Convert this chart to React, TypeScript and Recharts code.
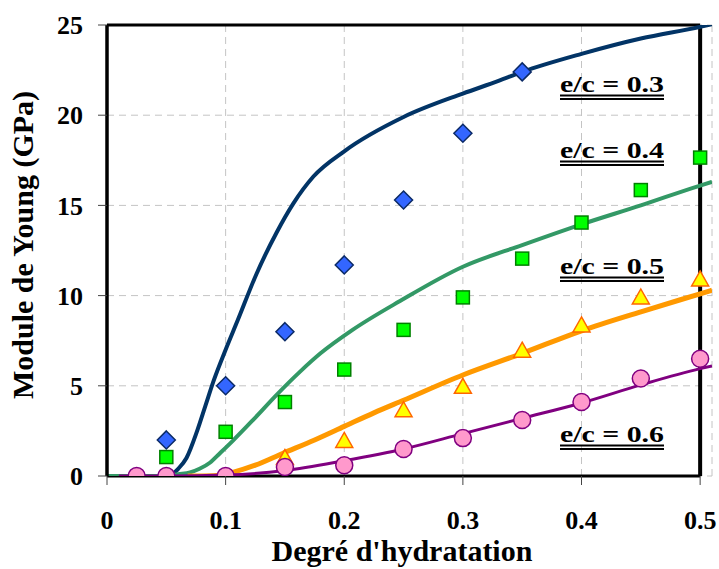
import React from "react";
import {
  ComposedChart,
  Line,
  Scatter,
  XAxis,
  YAxis,
  CartesianGrid,
  ReferenceLine,
  Customized,
} from "recharts";

const SERIF = '"Liberation Serif", "Times New Roman", serif';

// axis ticks
const xTicks = [0, 0.1, 0.2, 0.3, 0.4, 0.5];
const yTicks = [0, 5, 10, 15, 20, 25];

// measured points (symbols)
const xMeas03 = [0.05, 0.1, 0.15, 0.2, 0.25, 0.3, 0.35];
const eMeas03 = [2.0, 5.0, 8.0, 11.7, 15.3, 19.0, 22.4];

const xMeas04 = [0.05, 0.1, 0.15, 0.2, 0.25, 0.3, 0.35, 0.4, 0.45, 0.5];
const eMeas04 = [1.05, 2.45, 4.1, 5.9, 8.1, 9.9, 12.05, 14.05, 15.85, 17.65];

const xMeas05 = [0.025, 0.05, 0.1, 0.15, 0.2, 0.25, 0.3, 0.35, 0.4, 0.45, 0.5];
const eMeas05 = [0, 0, 0, 1.05, 2.0, 3.7, 5.0, 7.0, 8.4, 9.95, 10.95];

const xMeas06 = [0.025, 0.05, 0.1, 0.15, 0.2, 0.25, 0.3, 0.35, 0.4, 0.45, 0.5];
const eMeas06 = [0, 0, 0, 0.5, 0.6, 1.5, 2.1, 3.1, 4.1, 5.4, 6.5];

// simulated curves
const xSim03 = [0, 0.05, 0.055, 0.06, 0.067, 0.076, 0.083, 0.09, 0.1, 0.11, 0.126, 0.143, 0.157, 0.174, 0.2, 0.25, 0.3, 0.33, 0.35, 0.4, 0.45, 0.5, 0.51];
const eSim03 = [0, 0, 0.1, 0.4, 1.0, 2.5, 3.9, 5.3, 7.0, 8.6, 11.2, 13.5, 15.1, 16.6, 18.0, 19.9, 21.2, 21.9, 22.4, 23.4, 24.25, 24.9, 25.05];

const xSim04 = [0, 0.05, 0.06, 0.07, 0.078, 0.087, 0.095, 0.106, 0.123, 0.143, 0.163, 0.18, 0.207, 0.247, 0.3, 0.35, 0.4, 0.45, 0.5, 0.51];
const eSim04 = [0, 0, 0.1, 0.2, 0.4, 0.75, 1.25, 1.95, 3.1, 4.5, 5.8, 6.8, 8.1, 9.7, 11.6, 12.8, 13.95, 15.0, 16.1, 16.3];

const xSim05 = [0.068, 0.09, 0.1, 0.106, 0.125, 0.148, 0.175, 0.2, 0.225, 0.25, 0.3, 0.35, 0.4, 0.45, 0.5, 0.51];
const eSim05 = [0, 0.02, 0.1, 0.2, 0.6, 1.25, 2.0, 2.75, 3.5, 4.2, 5.6, 6.8, 8.05, 9.1, 10.1, 10.3];

const xSim06 = [0.01, 0.05, 0.1, 0.15, 0.2, 0.25, 0.3, 0.35, 0.4, 0.45, 0.5, 0.51];
const eSim06 = [0, 0, 0.05, 0.3, 0.85, 1.5, 2.35, 3.2, 4.05, 5.05, 5.95, 6.1];

const pairs = (xs: number[], ys: number[]) => xs.map((x, i) => ({ x, y: ys[i] }));

const Diamond = (p: any) => {
  const { cx, cy } = p;
  const r = 9;
  return (
    <polygon
      points={`${cx},${cy - r} ${cx + r},${cy} ${cx},${cy + r} ${cx - r},${cy}`}
      fill="#3366ff"
      stroke="#0b2a66"
      strokeWidth={1.5}
    />
  );
};

const Square = (p: any) => {
  const { cx, cy } = p;
  const s = 13;
  return <rect x={cx - s / 2} y={cy - s / 2} width={s} height={s} fill="#00ff00" stroke="#008000" strokeWidth={1.5} />;
};

const Triangle = (p: any) => {
  const { cx, cy } = p;
  const w = 17;
  const h = 15;
  return (
    <polygon
      points={`${cx},${cy - h / 2} ${cx + w / 2},${cy + h / 2} ${cx - w / 2},${cy + h / 2}`}
      fill="#ffff00"
      stroke="#ff6600"
      strokeWidth={1.5}
    />
  );
};

const Circle = (p: any) => {
  const { cx, cy } = p;
  return <circle cx={cx} cy={cy} r={8.5} fill="#ff99cc" stroke="#800080" strokeWidth={1.5} />;
};

const labels = [
  { text: "e/c = 0.3", base: 92 },
  { text: "e/c = 0.4", base: 158 },
  { text: "e/c = 0.5", base: 274 },
  { text: "e/c = 0.6", base: 442 },
];

function Annotations() {
  return (
    <g fontFamily={SERIF} fontWeight="bold" fill="#000">
      {labels.map((l) => (
        <g key={l.text}>
          <text x={560} y={l.base} fontSize={24} textLength={104} lengthAdjust="spacingAndGlyphs">
            {l.text}
          </text>
          <line x1={560} x2={664} y1={l.base + 3.5} y2={l.base + 3.5} stroke="#000" strokeWidth={2} />
          <line x1={560} x2={664} y1={l.base + 7} y2={l.base + 7} stroke="#000" strokeWidth={2} />
        </g>
      ))}
      <text x={402} y={561} fontSize={30} textAnchor="middle">
        Degré d'hydratation
      </text>
      <text transform="translate(33,245) rotate(-90)" fontSize={30} textAnchor="middle">
        Module de Young (GPa)
      </text>
    </g>
  );
}

export default function App() {
  const tickStyle = { fill: "#000", fontSize: 26, fontWeight: "bold", fontFamily: SERIF };
  return (
    <div style={{ position: "absolute", left: 0, top: 0, width: 719, height: 569, background: "#fff" }}>
      <ComposedChart width={719} height={569} margin={{ top: 25, right: 7, left: 37, bottom: 33 }}>
        <CartesianGrid stroke="#c4c4c4" strokeDasharray="7 5" />
        <XAxis
          type="number"
          dataKey="x"
          domain={[0, 0.51]}
          ticks={xTicks}
          height={60}
          axisLine={false}
          tickLine={{ stroke: "#444" }}
          tickSize={9}
          tickMargin={26}
          tick={tickStyle}
          allowDataOverflow
        />
        <YAxis
          type="number"
          dataKey="y"
          domain={[0, 25]}
          ticks={yTicks}
          width={70}
          axisLine={{ stroke: "#000", strokeWidth: 3.5 }}
          tickLine={{ stroke: "#444" }}
          tickSize={9}
          tickMargin={15}
          tick={tickStyle}
          allowDataOverflow
        />
        <ReferenceLine segment={[{ x: 0, y: 0 }, { x: 0.5, y: 0 }]} stroke="#000" strokeWidth={3} />
        <ReferenceLine segment={[{ x: 0, y: 25 }, { x: 0.5, y: 25 }]} stroke="#000" strokeWidth={3} />
        <ReferenceLine segment={[{ x: 0.5, y: 0 }, { x: 0.5, y: 25 }]} stroke="#000" strokeWidth={4} />
        <Line data={pairs(xSim03, eSim03)} dataKey="y" type="monotone" stroke="#023466" strokeWidth={4} dot={false} isAnimationActive={false} />
        <Line data={pairs(xSim04, eSim04)} dataKey="y" type="monotone" stroke="#339966" strokeWidth={4} dot={false} isAnimationActive={false} />
        <Line data={pairs(xSim05, eSim05)} dataKey="y" type="monotone" stroke="#ff9900" strokeWidth={5} dot={false} isAnimationActive={false} />
        <Line data={pairs(xSim06, eSim06)} dataKey="y" type="monotone" stroke="#800080" strokeWidth={3} dot={false} isAnimationActive={false} />
        <Scatter data={pairs(xMeas03, eMeas03)} dataKey="y" shape={Diamond} isAnimationActive={false} />
        <Scatter data={pairs(xMeas04, eMeas04)} dataKey="y" shape={Square} isAnimationActive={false} />
        <Scatter data={pairs(xMeas05, eMeas05)} dataKey="y" shape={Triangle} isAnimationActive={false} />
        <Scatter data={pairs(xMeas06, eMeas06)} dataKey="y" shape={Circle} isAnimationActive={false} />
        <Customized component={Annotations} />
      </ComposedChart>
    </div>
  );
}
